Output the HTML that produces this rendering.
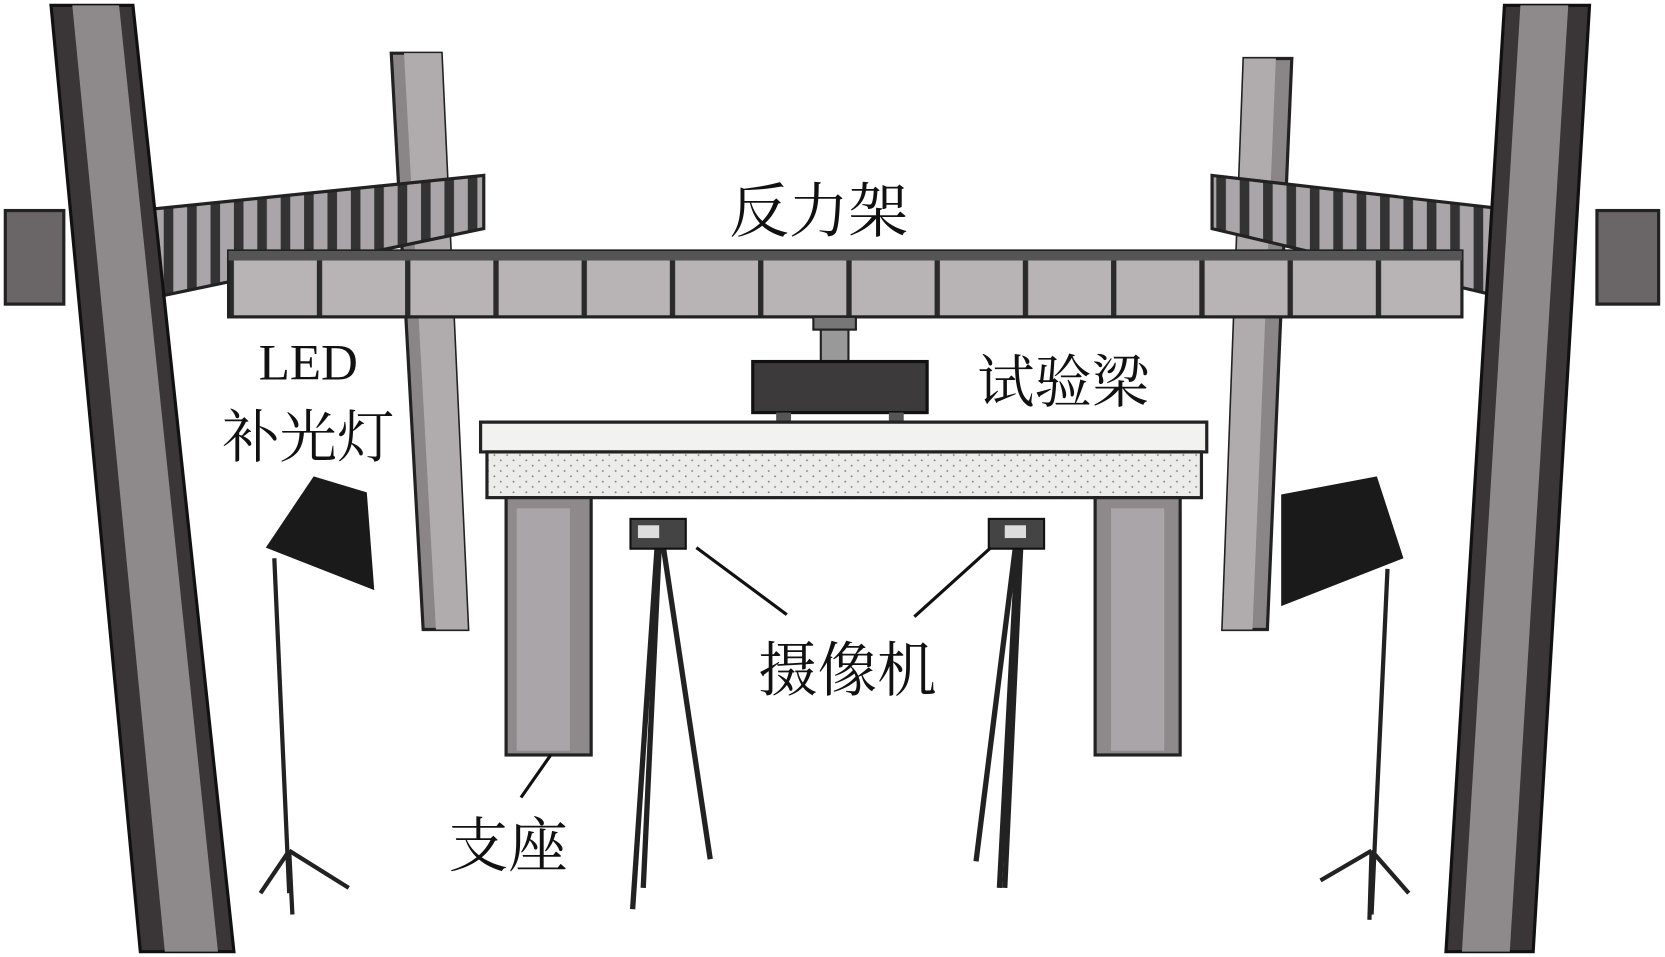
<!DOCTYPE html>
<html><head><meta charset="utf-8"><style>html,body{margin:0;padding:0;background:#fff}svg{display:block}
text{font-family:"Liberation Serif","Noto Serif CJK SC",serif;fill:#111}</style></head><body>
<svg width="1665" height="957" viewBox="0 0 1566 900" preserveAspectRatio="none" xmlns="http://www.w3.org/2000/svg">
<defs>
<pattern id="seg" x="215" y="0" width="83" height="60" patternUnits="userSpaceOnUse"><rect width="83" height="60" fill="#b8b4b6"/><rect x="0" width="5" height="60" fill="#2a2a2a"/></pattern>
<pattern id="cseg" x="0" y="0" width="22" height="120" patternUnits="userSpaceOnUse"><rect width="22" height="120" fill="#a9a5a8"/><rect width="9" height="120" fill="#333"/></pattern>
<pattern id="dots" width="12" height="10" patternUnits="userSpaceOnUse"><rect width="12" height="10" fill="#ececea"/><circle cx="3" cy="3" r="0.9" fill="#888"/><circle cx="9" cy="8" r="0.9" fill="#888"/></pattern>
</defs>
<rect width="1566" height="900" fill="#fff"/>
<!-- back columns -->
<polygon points="368,50 415,50 440,592 398,592" fill="#8a8688" stroke="#222" stroke-width="3"/>
<polygon points="380,50 415,50 440,592 410,592" fill="#b0acae"/>
<polygon points="1170,55 1215,55 1192,592 1150,592" fill="#8a8688" stroke="#222" stroke-width="3"/>
<polygon points="1170,55 1200,55 1178,592 1150,592" fill="#b0acae"/>
<!-- stubs -->
<rect x="5" y="198" width="55" height="88" fill="#6a6668" stroke="#222" stroke-width="3"/>
<rect x="1502" y="198" width="58" height="88" fill="#6a6668" stroke="#222" stroke-width="3"/>
<!-- cross beams -->
<polygon points="110,200 455,165 455,215 110,287" fill="url(#cseg)" stroke="#222" stroke-width="3"/>
<polygon points="1140,165 1445,200 1445,287 1140,215" fill="url(#cseg)" stroke="#222" stroke-width="3"/>
<!-- main beam -->
<rect x="215" y="236" width="1160" height="62" fill="url(#seg)" stroke="#222" stroke-width="3"/>
<rect x="215" y="236" width="1160" height="9" fill="#555"/>
<!-- big columns -->
<polygon points="48,5 125,5 220,895 132,895" fill="#3a3638" stroke="#111" stroke-width="3"/>
<polygon points="68,5 112,5 205,895 155,895" fill="#8e8a8c"/>
<polygon points="1415,5 1495,5 1442,895 1360,895" fill="#3a3638" stroke="#111" stroke-width="3"/>
<polygon points="1430,5 1475,5 1420,895 1375,895" fill="#8e8a8c"/>
<!-- jack -->
<rect x="765" y="298" width="40" height="12" fill="#777" stroke="#222" stroke-width="2"/>
<rect x="772" y="310" width="26" height="30" fill="#999" stroke="#222" stroke-width="2"/>
<rect x="708" y="340" width="164" height="48" fill="#3c3a3b" stroke="#111" stroke-width="3"/>
<rect x="730" y="388" width="14" height="9" fill="#555"/><rect x="836" y="388" width="14" height="9" fill="#555"/>
<!-- test beam -->
<polygon points="452,397 1135,397 1135,425 452,425" fill="#f2f2f0" stroke="#222" stroke-width="3"/>
<rect x="458" y="425" width="672" height="43" fill="url(#dots)" stroke="#222" stroke-width="3"/>
<!-- supports -->
<rect x="476" y="468" width="80" height="242" fill="#8e8a8c" stroke="#222" stroke-width="3"/>
<rect x="486" y="478" width="50" height="228" fill="#a9a5a8"/>
<rect x="1030" y="468" width="80" height="242" fill="#8e8a8c" stroke="#222" stroke-width="3"/>
<rect x="1045" y="478" width="50" height="228" fill="#a9a5a8"/>
<!-- cameras & tripods -->
<g stroke="#222" stroke-width="5" fill="none">
<line x1="618" y1="515" x2="595" y2="855"/><line x1="620" y1="515" x2="605" y2="835"/><line x1="624" y1="515" x2="668" y2="808"/>
<line x1="955" y1="515" x2="918" y2="810"/><line x1="957" y1="515" x2="940" y2="835"/><line x1="960" y1="515" x2="945" y2="835"/>
</g>
<rect x="593" y="488" width="52" height="28" fill="#444" stroke="#111" stroke-width="2"/><rect x="600" y="494" width="20" height="12" fill="#ddd"/>
<rect x="930" y="488" width="52" height="28" fill="#444" stroke="#111" stroke-width="2"/><rect x="945" y="494" width="20" height="12" fill="#ddd"/>
<!-- lights -->
<polygon points="250,515 295,448 345,463 352,555" fill="#1a1a1a"/>
<g stroke="#222" stroke-width="4"><line x1="258" y1="525" x2="272" y2="840"/><line x1="272" y1="800" x2="245" y2="840"/><line x1="272" y1="800" x2="328" y2="835"/><line x1="272" y1="800" x2="275" y2="860"/></g>
<polygon points="1205,465 1295,448 1320,525 1205,570" fill="#1a1a1a"/>
<g stroke="#222" stroke-width="4"><line x1="1305" y1="535" x2="1290" y2="860"/><line x1="1290" y1="800" x2="1242" y2="828"/><line x1="1290" y1="800" x2="1325" y2="840"/><line x1="1290" y1="800" x2="1288" y2="865"/></g>
<!-- leaders -->
<g stroke="#111" stroke-width="3"><line x1="655" y1="515" x2="740" y2="578"/><line x1="932" y1="515" x2="860" y2="580"/><line x1="518" y1="710" x2="490" y2="750"/></g>
<!-- labels -->
<text x="770" y="218" font-size="56" text-anchor="middle">反力架</text>
<text x="1000" y="378" font-size="54" text-anchor="middle">试验梁</text>
<text x="290" y="357" font-size="48" text-anchor="middle">LED</text>
<text x="290" y="430" font-size="54" text-anchor="middle">补光灯</text>
<text x="797" y="650" font-size="56" text-anchor="middle">摄像机</text>
<text x="478" y="815" font-size="56" text-anchor="middle">支座</text>
</svg>
</body></html>
